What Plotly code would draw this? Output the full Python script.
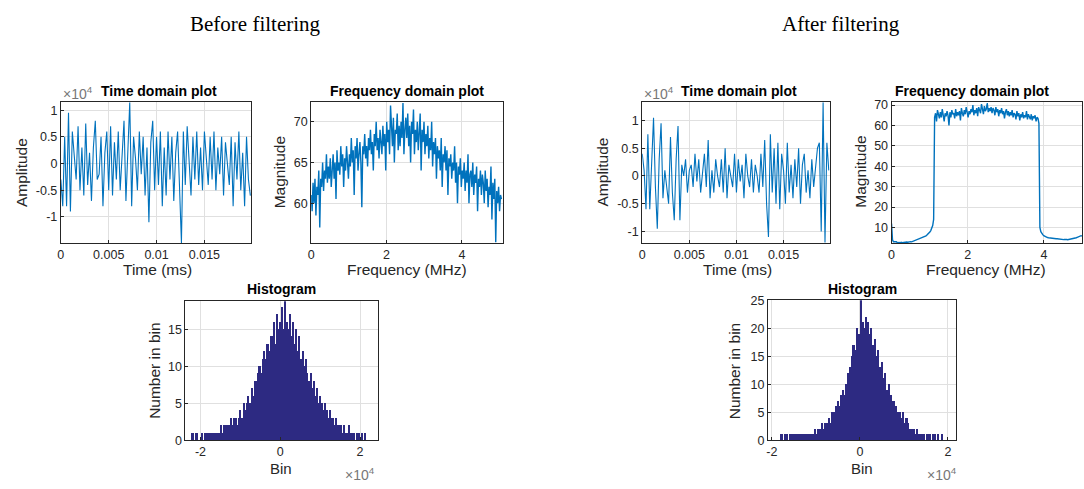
import numpy as np
import plotly.graph_objects as go

# ---------------- data ----------------
# time-domain amplitudes in units of 1e4, sample spacing 2e-4 ms
td_before = [
    -0.3, -0.8, 0.5, -0.8, 0.95, -0.9, 0.6, 0.1, -0.3, 0.7,
    -0.5, 0.3, -0.6, 0.75, -0.4, 0.2, -0.7, 0.3, 0.8, -0.3,
    -0.2, 0.5, -0.8, 0.2, 0.6, -0.5, 0.7, -0.6, 0.4, -0.3,
    0.6, -0.5, 0.2, 0.8, -0.7, 0.3, 1.15, -0.8, 0.5, 0.1,
    -0.5, 0.6, -0.2, 0.5, -0.6, 0.3, -1.1, 0.4, 0.8, -0.5,
    0.5, -0.4, 0.6, -0.8, 0.3, -0.6, 0.6, -0.3, 0.5, -0.7,
    0.2, 0.6, -0.6, -1.49, 0.6, -0.4, 0.7, 0.0, -0.6, 0.5,
    -0.3, 0.6, -0.4, 0.3, -0.5, 0.6, 0.1, -0.4, 0.5, -0.3,
    0.6, -0.5, 0.3, -0.2, 0.5, -0.6, 0.4, 0.0, -0.4, 0.5,
    -0.8, 0.4, -0.3, 0.6, -0.5, 0.2, -0.8, 0.5, -0.3, -0.6,
]
td_after = [
    0.4, 0.1, -0.6, 0.75, -0.6, 0.2, 1.05, -0.2, -0.95, 0.3,
    0.95, -0.4, 0.1, -0.2, -0.5, 0.7, -0.3, -0.8, 0.3, 0.9,
    -0.8, 0.2, 0.0, 0.3, -0.3, 0.1, 0.2, -0.2, 0.4, -0.1,
    0.3, -0.3, 0.1, 0.4, -0.2, 0.65, -0.4, 0.1, -0.3, 0.3,
    0.0, -0.2, 0.3, -0.3, 0.5, -0.4, 0.2, 0.0, -0.2, 0.4,
    -0.3, 0.3, -0.1, 0.2, -0.4, 0.4, 0.0, -0.2, 0.3, -0.3,
    0.2, 0.0, -0.3, 0.4, -0.2, 0.65, -0.5, -1.1, 0.75, -0.3,
    0.5, -0.5, 0.6, -0.6, 0.4, 0.1, -0.5, 0.6, -0.3, 0.2,
    -0.4, 0.3, -0.2, 0.5, -0.5, 0.2, 0.4, -0.3, 0.1, -0.4,
    0.3, -0.2, 0.1, 0.5, 0.6, -1.0, 1.33, -1.2, 0.6, 0.1,
]
# frequency-domain magnitudes, 0..5 MHz
fd_before = [
    61, 59, 62.5, 60, 63, 58.5, 62, 61, 64, 57, 63, 62, 65, 61.5, 64, 63, 66, 62.5, 64.5, 63,
    65.5, 62, 64, 66, 63, 65, 60.5, 66.5, 64, 65, 63.5, 67, 64.5, 66, 62, 65.5, 64, 67, 65, 63,
    66, 64.5, 68, 65, 66.5, 61, 67, 65.5, 68, 64, 66, 67.5, 65, 59.5, 67, 66, 68.5, 65.5, 67, 64.5,
    68, 66.5, 69, 66, 67.5, 64, 68.5, 67, 70, 66.5, 68, 65.5, 69, 67.5, 66, 69.5, 67, 68.5, 64, 70,
    67.5, 69, 66, 72, 68, 67, 70.5, 65, 69, 68.5, 71, 66.5, 69.5, 67, 70, 68, 72.3, 66, 69, 70.5,
    68, 71, 67, 69.5, 65, 70, 68.5, 71.5, 66, 69, 67.5, 70, 66.5, 68.5, 71, 64, 69, 67.5, 70, 66,
    68.5, 67, 69.5, 65.5, 68, 66.5, 70, 64.5, 67.5, 66, 68, 63, 67, 65.5, 66.5, 64, 68, 62, 66, 65,
    67, 64, 66.5, 61, 65.5, 64.5, 66, 63, 65, 64, 67, 62.5, 65, 60, 64.5, 63.5, 65.5, 62, 64, 63,
    65, 61.5, 64, 62.5, 66, 60, 63.5, 64, 62, 65, 61, 63.5, 62.5, 64.5, 59, 63, 62, 64, 61, 63.5,
    62.5, 60, 64, 61.5, 63, 59.5, 62, 61, 64.5, 58, 62.5, 60.5, 63, 55.2, 61.5, 60, 62, 59, 61, 60.5,
]
fd_after = [
    12, 4, 3, 3, 2.8, 3, 2.6, 2.8, 2.7, 2.5, 2.8, 2.6, 2.7, 2.6, 2.8, 2.7, 2.9, 2.8, 3, 2.9,
    3.1, 3, 3.2, 3.3, 3.4, 3.6, 3.7, 3.9, 4, 4.2, 4.4, 4.6, 4.8, 5, 5.3, 5.6, 5.9, 6.3, 6.7, 7.2,
    7.8, 8.5, 9.5, 11, 14,
    64, 66, 62, 67.5, 65, 63.5, 66.5, 64, 68, 65.5, 62, 66, 64.5, 67, 65, 60, 66.5, 64, 67.5, 65.5,
    66, 63.5, 68, 64.5, 66.5, 65, 67, 62.5, 68.5, 66, 64.5, 67.5, 65.5, 69, 66, 64, 67, 65.5, 68, 66.5,
    70, 65, 67.5, 66, 68.5, 64.5, 69, 67, 66, 70.5, 67.5, 65.5, 69.5, 67, 68, 71, 66.5, 68.5, 67, 69,
    66, 68.5, 67.5, 65, 69, 66.5, 68, 64.5, 67.5, 66, 68.5, 65.5, 67, 63.5, 66.5, 68, 65, 67, 64.5, 66.5,
    65, 67.5, 64, 66, 65.5, 63, 67, 64.5, 66, 62.5, 65.5, 64, 66.5, 63.5, 65, 64, 67, 63, 65.5, 64,
    63, 65.5, 62.5, 64.5, 63.5, 65, 62, 64, 63.5, 61,
    10, 8, 7, 6.5, 6, 5.7, 5.5, 5.3, 5.1, 5, 4.9, 4.8, 4.7, 4.7, 4.6, 4.6, 4.5, 4.5, 4.5, 4.4,
    4.4, 4.3, 4.3, 4.2, 4.2, 4.1, 4.1, 4.2, 4.1, 4.0, 4.1, 4.0, 4.2, 4.3, 4.4, 4.5, 4.6, 4.8, 5, 5.2,
    5.4, 5.6, 5.8, 6, 5.8,
]
# histograms: counts per bin, bins 0.04e4 wide
hist_before_start = -2.20
hist_before = [
    1, 0, 1, 1, 0, 0, 1, 0, 1, 1,
    1, 1, 1, 1, 1, 1, 1, 1, 2, 1,
    2, 2, 2, 2, 3, 2, 3, 3, 2, 3,
    4, 3, 5, 4, 5, 6, 5, 7, 6, 8,
    8, 9, 10, 9, 11, 12, 11, 13, 12, 14,
    14, 16, 13, 17, 15, 16, 18, 15, 19, 16,
    15, 17, 14, 16, 13, 15, 12, 14, 11, 12,
    10, 11, 9, 8, 9, 7, 8, 6, 7, 5,
    6, 5, 4, 5, 4, 3, 4, 3, 3, 2,
    3, 2, 2, 2, 1, 2, 1, 1, 2, 1,
    1, 1, 0, 1, 1, 0, 1, 0, 1, 0,
]
hist_after_start = -1.80
hist_after = [
    1, 0, 1, 1, 0, 1, 1, 1, 1, 1,
    1, 1, 1, 1, 1, 1, 1, 1, 1, 2,
    1, 2, 2, 3, 2, 3, 3, 4, 3, 5,
    5, 6, 7, 6, 8, 9, 8, 10, 12, 13,
    15, 17, 16, 20, 19, 25, 21, 20, 22, 21,
    19, 20, 17, 18, 15, 16, 13, 14, 11, 12,
    9, 10, 8, 7, 7, 6, 5, 5, 4, 5,
    3, 4, 3, 2, 2, 2, 1, 2, 1, 1,
    1, 1, 0, 1, 1, 0, 1, 1, 0, 1,
    0, 1,
]
bin_width = 0.04

# ---------------- figure ----------------
W, H = 1084, 489
FONT = "Liberation Sans, Arial, Helvetica, sans-serif"
LINE = "#0072BD"
BAR = "#2d2a82"
TXT = "#262626"


def px(x):
    return x / W


def py(y):
    return 1 - y / H


fig = go.Figure()

# axis boxes in pixels: (x0, x1, y0_top, y1_bottom)
boxes = {
    1: (58, 249, 98, 243),
    2: (309, 501, 98, 243),
    3: (641, 829, 98, 243),
    4: (891, 1082, 98, 243),
    5: (183, 376, 303, 446),
    6: (767, 956, 302, 446),
}

t_before = np.arange(len(td_before)) * 2e-4
t_after = np.arange(len(td_after)) * 2e-4
f_before = np.linspace(0, 5.05, len(fd_before))
f_after = np.linspace(0, 5.0, len(fd_after))
hb_x = hist_before_start + bin_width / 2 + np.arange(len(hist_before)) * bin_width
ha_x = hist_after_start + bin_width / 2 + np.arange(len(hist_after)) * bin_width

fig.add_trace(go.Scatter(x=t_before, y=td_before, mode="lines",
                         line=dict(color=LINE, width=1.1), xaxis="x", yaxis="y"))
fig.add_trace(go.Scatter(x=f_before, y=fd_before, mode="lines",
                         line=dict(color=LINE, width=1.4), xaxis="x2", yaxis="y2"))
fig.add_trace(go.Scatter(x=t_after, y=td_after, mode="lines",
                         line=dict(color=LINE, width=1.1), xaxis="x3", yaxis="y3"))
fig.add_trace(go.Scatter(x=f_after, y=fd_after, mode="lines",
                         line=dict(color=LINE, width=1.4), xaxis="x4", yaxis="y4"))
fig.add_trace(go.Bar(x=hb_x, y=hist_before, width=bin_width,
                     marker=dict(color=BAR, line=dict(width=0)),
                     xaxis="x5", yaxis="y5"))
fig.add_trace(go.Bar(x=ha_x, y=hist_after, width=bin_width,
                     marker=dict(color=BAR, line=dict(width=0)),
                     xaxis="x6", yaxis="y6"))

xranges = {1: [0, 0.0199], 2: [0, 5.08], 3: [0, 0.0199], 4: [0, 5.0], 5: [-2.375, 2.45], 6: [-2.09, 2.19]}
yranges = {1: [-1.49, 1.15], 2: [55.1, 72.4], 3: [-1.21, 1.33], 4: [2.4, 71.4], 5: [0, 18.8], 6: [0, 25]}
xticks = {1: [0, 0.005, 0.01, 0.015], 2: [0, 2, 4], 3: [0, 0.005, 0.01, 0.015], 4: [0, 2, 4],
          5: [-2, 0, 2], 6: [-2, 0, 2]}
xtext = {1: ["0", "0.005", "0.01", "0.015"], 2: ["0", "2", "4"], 3: ["0", "0.005", "0.01", "0.015"],
         4: ["0", "2", "4"], 5: ["-2", "0", "2"], 6: ["-2", "0", "2"]}
yticks = {1: [-1, -0.5, 0, 0.5, 1], 2: [60, 65, 70], 3: [-1, -0.5, 0, 0.5, 1],
          4: [10, 20, 30, 40, 50, 60, 70], 5: [0, 5, 10, 15], 6: [0, 5, 10, 15, 20, 25]}
ytext = {1: ["-1", "-0.5", "0", "0.5", "1"], 2: ["60", "65", "70"], 3: ["-1", "-0.5", "0", "0.5", "1"],
         4: ["10", "20", "30", "40", "50", "60", "70"], 5: ["0", "5", "10", "15"],
         6: ["0", "5", "10", "15", "20", "25"]}

layout = dict(
    width=W, height=H, margin=dict(l=0, r=0, t=0, b=0),
    paper_bgcolor="white", plot_bgcolor="white", showlegend=False, bargap=0,
    font=dict(family=FONT, color=TXT, size=12),
)
for k, (x0, x1, y0, y1) in boxes.items():
    sx = "" if k == 1 else str(k)
    layout["xaxis" + sx] = dict(
        domain=[px(x0), px(x1)], anchor="y" + sx, range=xranges[k],
        tickvals=xticks[k], ticktext=xtext[k], ticks="inside", ticklen=3,
        tickcolor=TXT, showline=True, linecolor=TXT, linewidth=1, mirror=True,
        showgrid=True, gridcolor="#e0e0e0", gridwidth=1, zeroline=False,
        tickfont=dict(size=12.5, color=TXT),
    )
    layout["yaxis" + sx] = dict(
        domain=[py(y1), py(y0)], anchor="x" + sx, range=yranges[k],
        tickvals=yticks[k], ticktext=ytext[k], ticks="inside", ticklen=3,
        tickcolor=TXT, showline=True, linecolor=TXT, linewidth=1, mirror=True,
        showgrid=True, gridcolor="#e0e0e0", gridwidth=1, zeroline=False,
        tickfont=dict(size=12.5, color=TXT),
    )
fig.update_layout(**layout)


def ann(text, x, y, size=14, color=TXT, angle=0, family=FONT, xanchor="center"):
    fig.add_annotation(text=text, x=px(x), y=py(y), xref="paper", yref="paper",
                       showarrow=False, font=dict(size=size, color=color, family=family),
                       textangle=angle, xanchor=xanchor, yanchor="middle")


# big headings
ann("Before filtering", 253, 18, size=21, color="black",
    family="Liberation Serif, Times New Roman, serif")
ann("After filtering", 840, 18, size=21, color="black",
    family="Liberation Serif, Times New Roman, serif")

# subplot titles
ann("<b>Time domain plot</b>", 156, 86, size=14, color="black")
ann("<b>Frequency domain plot</b>", 405, 86, size=14, color="black")
ann("<b>Time domain plot</b>", 738, 86, size=14, color="black")
ann("<b>Frequency domain plot</b>", 972, 86, size=14, color="black")
ann("<b>Histogram</b>", 279, 290, size=14, color="black")
ann("<b>Histogram</b>", 862, 290, size=14, color="black")

# exponent labels
ann("×10<sup>4</sup>", 58, 89, size=14, color="#777777", xanchor="left")
ann("×10<sup>4</sup>", 641, 89, size=14, color="#777777", xanchor="left")
ann("×10<sup>4</sup>", 358, 481, size=14, color="#777777")
ann("×10<sup>4</sup>", 942, 481, size=14, color="#777777")

# axis labels
ann("Time (ms)", 155, 270, size=15.5)
ann("Frequency (MHz)", 405, 270, size=15.5)
ann("Time (ms)", 737, 270, size=15.5)
ann("Frequency (MHz)", 986, 270, size=15.5)
ann("Bin", 279, 475, size=15)
ann("Bin", 861, 475, size=15)
ann("Amplitude", 18, 170, size=15.5, angle=-90)
ann("Magnitude", 277, 170, size=15.5, angle=-90)
ann("Amplitude", 601, 170, size=15.5, angle=-90)
ann("Magnitude", 860, 170, size=15.5, angle=-90)
ann("Number in bin", 152, 374, size=15.5, angle=-90)
ann("Number in bin", 733, 374, size=15.5, angle=-90)

fig.write_html("out.html")
